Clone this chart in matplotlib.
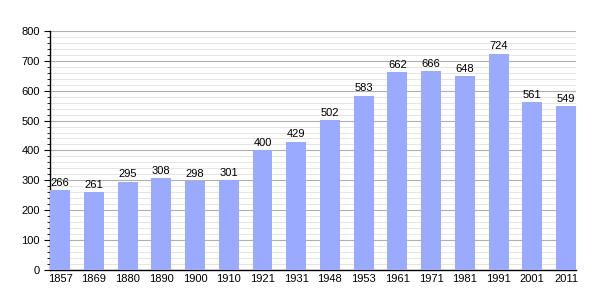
import matplotlib
matplotlib.use('Agg')
import matplotlib.pyplot as plt
from matplotlib.ticker import MultipleLocator

plt.rcParams['font.family'] = ['Liberation Sans', 'DejaVu Sans']

# ── Data ──────────────────────────────────────────────────────────────────────
years = ['1857', '1869', '1880', '1890', '1900', '1910', '1921', '1931',
         '1948', '1953', '1961', '1971', '1981', '1991', '2001', '2011']
population = [266, 261, 295, 308, 298, 301, 400, 429,
              502, 583, 662, 666, 648, 724, 561, 549]

BAR_COLOR = '#99aaff'
WIDTH = 0.59

fig = plt.figure(figsize=(6.05, 3.0), dpi=100)
ax = fig.add_axes([0.083, 0.1, 0.869, 0.797])

x = range(len(years))
ax.bar(x, population, width=WIDTH, color=BAR_COLOR, zorder=3)

for xi, v in zip(x, population):
    ax.text(xi, v + 8, str(v), ha='center', va='bottom', fontsize=8, zorder=4)

ax.set_xlim(-WIDTH / 2, len(years) - 1 + WIDTH / 2)
ax.set_ylim(0, 800)
ax.set_xticks(list(x))
ax.set_xticklabels(years, fontsize=8)
ax.tick_params(axis='x', length=0, pad=3)

ax.yaxis.set_major_locator(MultipleLocator(100))
ax.yaxis.set_minor_locator(MultipleLocator(20))
ax.tick_params(axis='y', which='major', labelsize=8, length=4, width=0.8)
ax.tick_params(axis='y', which='minor', length=2, width=0.6)

ax.grid(axis='y', which='major', color='#b0b0b0', lw=0.8, zorder=0)
ax.grid(axis='y', which='minor', color='#e0e0e0', lw=0.6, zorder=0)

for s in ('top', 'right'):
    ax.spines[s].set_visible(False)
ax.spines['left'].set_linewidth(1.0)
ax.spines['bottom'].set_linewidth(1.0)

fig.savefig('out.png', dpi=100)
